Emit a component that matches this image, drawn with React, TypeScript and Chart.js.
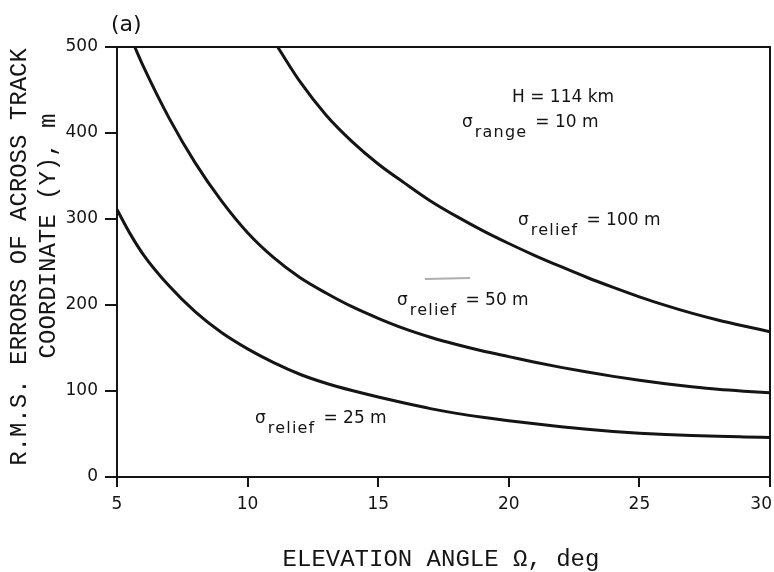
import { useEffect, useRef } from "react";
import { Chart, registerables } from "chart.js";

Chart.register(...registerables);

// Elevation angle (deg) and r.m.s. error (m) for each relief sigma
const angle25 = [5, 5.5, 6, 7, 8, 9, 10, 11, 12, 13, 14, 15, 16, 17, 18, 19, 20, 21, 22, 23, 24, 25, 26, 27, 28, 29, 30];
const rms25 = [311, 283, 259, 222, 192, 168, 149, 133, 119.5, 109, 100.5, 93, 86, 79.5, 74, 69.5, 65.5, 62, 58.5, 55.5, 53, 51, 49.5, 48.3, 47.3, 46.6, 46];

const angle50 = [5.68, 6, 7, 8, 9, 10, 11, 12, 13, 14, 15, 16, 17, 18, 19, 20, 21, 22, 23, 24, 25, 26, 27, 28, 29, 30];
const rms50 = [500, 478, 417, 365, 321, 284, 255, 232, 214, 198, 184.5, 172.5, 162.5, 154, 146.5, 140, 133.5, 127.5, 122, 117, 112.5, 108.5, 105, 102, 99.8, 98];

const angle100 = [11.15, 12, 13, 14, 15, 16, 17, 18, 19, 20, 21, 22, 23, 24, 25, 26, 27, 28, 29, 30];
const rms100 = [500, 460, 421, 390, 364, 342, 321, 303, 286.5, 271.5, 257.5, 244.5, 232, 220.5, 209.5, 199.5, 190.5, 182.5, 175.5, 169];

const xTicks = [5, 10, 15, 20, 25, 30];
const yTicks = [0, 100, 200, 300, 400, 500];

const panelLabel = "(a)";
const yTitle1 = "R.M.S. ERRORS OF ACROSS TRACK";
const yTitle2 = "COORDINATE (Y), m";
const xTitle = "ELEVATION ANGLE \u03A9, deg";
const heightNote = "H = 114 km";

const toPoints = (xs: number[], ys: number[]) => xs.map((x, i) => ({ x, y: ys[i] }));

const INK = "#141414";
const SANS = "'DejaVu Sans', sans-serif";
const MONO = "'Courier New', 'Liberation Mono', monospace";

function drawSigma(ctx: CanvasRenderingContext2D, x: number, base: number, sub: string, rest: string) {
  ctx.textAlign = "left";
  ctx.textBaseline = "alphabetic";
  ctx.font = `17px ${SANS}`;
  ctx.fillText("\u03C3", x, base);
  const sw = ctx.measureText("\u03C3").width;
  ctx.font = `16px ${SANS}`;
  (ctx as any).letterSpacing = "1.2px";
  const sx = x + sw + 2;
  ctx.fillText(sub, sx, base + 10);
  const subW = ctx.measureText(sub).width;
  (ctx as any).letterSpacing = "0px";
  ctx.font = `17px ${SANS}`;
  ctx.fillText(rest, sx + subW + 8, base);
}

const textPlugin = {
  id: "figureTexts",
  afterDraw(chart: any) {
    const ctx: CanvasRenderingContext2D = chart.ctx;
    const { left, right, top, bottom } = chart.chartArea;
    ctx.save();
    ctx.strokeStyle = INK;
    ctx.lineWidth = 2;
    ctx.strokeRect(left, top, right - left, bottom - top);

    ctx.fillStyle = INK;

    // x tick labels (kept inside the page at the right edge)
    const xs = chart.scales.x;
    ctx.font = `17px ${SANS}`;
    ctx.textAlign = "center";
    ctx.textBaseline = "middle";
    xTicks.forEach((v) => {
      const label = String(v);
      const w = ctx.measureText(label).width;
      let px = xs.getPixelForValue(v);
      if (px + w / 2 > chart.width - 2) px = chart.width - 2 - w / 2;
      ctx.fillText(label, px, bottom + 28);
    });

    ctx.font = `22px ${SANS}`;
    ctx.textAlign = "left";
    ctx.textBaseline = "alphabetic";
    ctx.fillText(panelLabel, 111, 31);

    // axis titles
    ctx.font = `24px ${MONO}`;
    ctx.textAlign = "center";
    ctx.textBaseline = "middle";
    ctx.fillText(xTitle, 441, 560);
    ctx.save();
    ctx.translate(20, 257);
    ctx.rotate(-Math.PI / 2);
    ctx.fillText(yTitle1, 0, 0);
    ctx.restore();
    ctx.save();
    ctx.translate(49, 236);
    ctx.rotate(-Math.PI / 2);
    ctx.fillText(yTitle2, 0, 0);
    ctx.restore();

    // annotations
    ctx.font = `17px ${SANS}`;
    ctx.textAlign = "left";
    ctx.textBaseline = "alphabetic";
    ctx.fillText(heightNote, 512, 102);
    drawSigma(ctx, 462, 127, "range", "= 10 m");
    drawSigma(ctx, 518, 225, "relief", "= 100 m");
    drawSigma(ctx, 397, 305, "relief", "= 50 m");
    drawSigma(ctx, 255, 423, "relief", "= 25 m");

    // faint scan mark above the 50 m label
    ctx.strokeStyle = "rgba(120,120,120,0.6)";
    ctx.lineWidth = 2;
    ctx.beginPath();
    ctx.moveTo(425, 279);
    ctx.lineTo(470, 278);
    ctx.stroke();
    ctx.restore();
  },
};

export default function App() {
  const ref = useRef<HTMLCanvasElement | null>(null);

  useEffect(() => {
    if (!ref.current) return;
    const curve = (xs: number[], ys: number[]) => ({
      data: toPoints(xs, ys),
      borderColor: INK,
      borderWidth: 3,
      pointRadius: 0,
      fill: false,
      tension: 0.4,
      cubicInterpolationMode: "monotone" as const,
    });
    const chart = new Chart(ref.current, {
      type: "line",
      data: {
        datasets: [curve(angle25, rms25), curve(angle50, rms50), curve(angle100, rms100)],
      },
      options: {
        responsive: false,
        animation: false,
        devicePixelRatio: 1,
        layout: { padding: { top: 47, right: 4, left: 0, bottom: 0 } },
        plugins: { legend: { display: false }, tooltip: { enabled: false } },
        scales: {
          x: {
            type: "linear",
            min: 5,
            max: 30,
            afterBuildTicks: (s: any) => {
              s.ticks = xTicks.map((v) => ({ value: v }));
            },
            afterFit: (s: any) => {
              s.height = 95;
              s.paddingLeft = 0;
              s.paddingRight = 0;
            },
            border: { display: false },
            grid: { drawOnChartArea: false, drawTicks: true, tickLength: 10, color: INK, lineWidth: 2 },
            ticks: { display: false },
          },
          y: {
            min: 0,
            max: 500,
            afterBuildTicks: (s: any) => {
              s.ticks = yTicks.map((v) => ({ value: v }));
            },
            afterFit: (s: any) => {
              s.width = 117;
              s.paddingTop = 0;
              s.paddingBottom = 0;
            },
            border: { display: false },
            grid: { drawOnChartArea: false, drawTicks: true, tickLength: 12, color: INK, lineWidth: 2 },
            ticks: { color: INK, font: { family: SANS, size: 17 }, padding: 7 },
          },
        },
      },
      plugins: [textPlugin],
    });
    return () => chart.destroy();
  }, []);

  return (
    <div style={{ position: "fixed", left: 0, top: 0, width: 774, height: 572, background: "#fff" }}>
      <canvas ref={ref} width={774} height={572} style={{ width: 774, height: 572, display: "block" }} />
    </div>
  );
}
